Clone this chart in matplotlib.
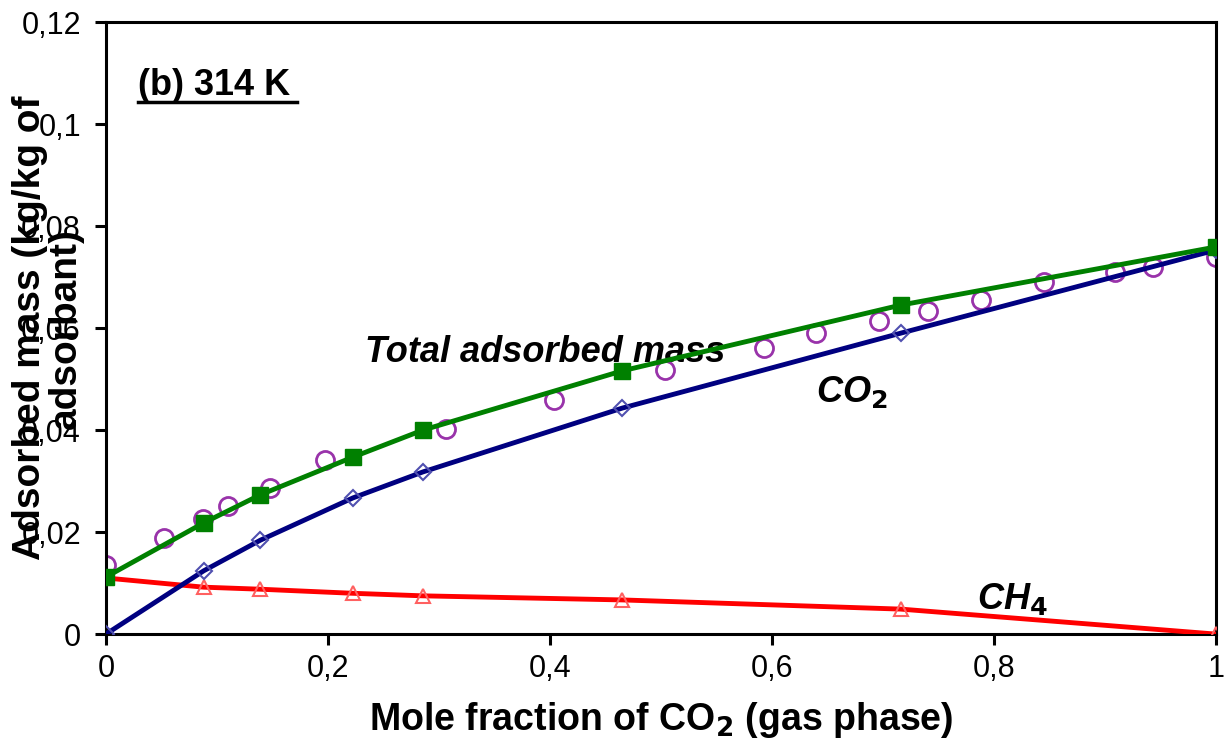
import matplotlib
matplotlib.use("Agg")
import matplotlib.pyplot as plt

plt.rcParams['font.family'] = ['Liberation Sans', 'DejaVu Sans']

# model points (lines + filled/open markers)
x_model = [0, 0.088, 0.139, 0.2225, 0.2856, 0.465, 0.716, 1.0]
total_model = [0.0112, 0.0218, 0.0273, 0.0347, 0.0400, 0.0516, 0.0645, 0.0759]
co2_model = [0.0, 0.0124, 0.0184, 0.0267, 0.0318, 0.0443, 0.0590, 0.0753]
ch4_model = [0.0110, 0.0092, 0.0088, 0.0080, 0.0075, 0.0067, 0.0049, 0.0]

# experimental total adsorbed mass (open circles)
x_exp = [0, 0.052, 0.087, 0.110, 0.148, 0.197, 0.306, 0.404, 0.504, 0.593,
         0.640, 0.696, 0.741, 0.788, 0.845, 0.909, 0.943, 1.0]
total_exp = [0.0135, 0.0188, 0.0226, 0.0252, 0.0287, 0.0341, 0.0403, 0.0458, 0.0518, 0.0560,
             0.0590, 0.0613, 0.0633, 0.0655, 0.0691, 0.0710, 0.0719, 0.0740]

xticks = [0, 0.2, 0.4, 0.6, 0.8, 1.0]
xlabels = ["0", "0,2", "0,4", "0,6", "0,8", "1"]
yticks = [0, 0.02, 0.04, 0.06, 0.08, 0.10, 0.12]
ylabels = ["0", "0,02", "0,04", "0,06", "0,08", "0,1", "0,12"]

fig = plt.figure(figsize=(12.32, 7.46), dpi=100)
ax = fig.add_axes([0.086, 0.150, 0.901, 0.8205])

ax.plot(x_model, ch4_model, color="#ff0000", lw=3.5, marker="^", ms=10,
        mfc="none", mec="#ff6060", mew=1.5, zorder=3)
ax.plot(x_model, co2_model, color="#000080", lw=3.5, marker="D", ms=8,
        mfc="none", mec="#5050b0", mew=1.5, zorder=3)
ax.plot(x_exp, total_exp, ls="none", marker="o", ms=13, mfc="none",
        mec="#9933aa", mew=2, zorder=2)
ax.plot(x_model, total_model, color="#008000", lw=3.5, marker="s", ms=12,
        mfc="#008000", mec="#008000", zorder=4)

ax.set_xlim(0, 1)
ax.set_ylim(0, 0.12)
ax.set_xticks(xticks)
ax.set_xticklabels(xlabels)
ax.set_yticks(yticks)
ax.set_yticklabels(ylabels)
ax.tick_params(direction="out", length=8, width=2.2, labelsize=22)
ax.tick_params(axis="x", pad=6)
ax.tick_params(axis="y", pad=10)
for s in ax.spines.values():
    s.set_linewidth(2.2)

ax.set_xlabel("Mole fraction of CO$_\\mathbf{2}$ (gas phase)", fontsize=27,
              fontweight="bold", labelpad=12)
fig.text(0.039, 0.560, "Adsorbed mass (kg/kg of\nadsorbant)", rotation=90,
         fontsize=28, fontweight="bold", ha="center", va="center",
         multialignment="center", linespacing=1.0)

ax.text(0.029, 0.1075, "(b) 314 K", fontsize=26, fontweight="bold",
        ha="left", va="center")
ax.plot([0.029, 0.172], [0.1043, 0.1043], color="black", lw=2.5,
        clip_on=False)

ax.text(0.233, 0.0553, "Total adsorbed mass", fontsize=26, fontweight="bold",
        style="italic", ha="left", va="center")
ax.text(0.64, 0.0474, "CO$_\\mathbf{2}$", fontsize=26, fontweight="bold",
        style="italic", ha="left", va="center")
ax.text(0.785, 0.0068, "CH$_\\mathbf{4}$", fontsize=26, fontweight="bold",
        style="italic", ha="left", va="center")

fig.savefig("out.png", dpi=100)
